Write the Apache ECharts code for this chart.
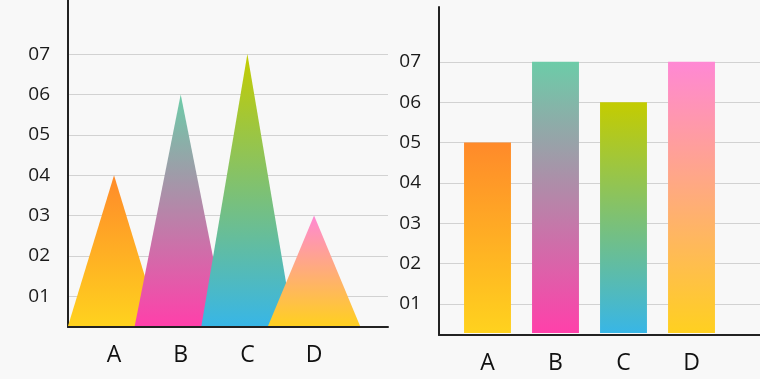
<!DOCTYPE html>
<html><head><meta charset="utf-8">
<script src="https://cdn.jsdelivr.net/npm/echarts@6/dist/echarts.min.js"></script>
<style>html,body{margin:0;padding:0;background:#f8f8f8}#c{width:760px;height:379px}</style>
</head><body><div id="c"></div>
<script>
const categories = ['A', 'B', 'C', 'D'];
const leftValues = [4, 6, 7, 3];
const rightValues = [5, 7, 6, 7];
const yTicks = [1, 2, 3, 4, 5, 6, 7];
const tickLabels = ['01', '02', '03', '04', '05', '06', '07'];
const topColors = ['#ff8a2a', '#6ccca8', '#c4cc00', '#ff88d4'];
const bottomColors = ['#ffd21e', '#ff40aa', '#38b6e6', '#ffd020'];

const leftMin = 0.24, leftMax = 8.34;
const rightMin = 0.23, rightMax = 8.36;
const FONT = 'Open Sans';

function grad(i) {
  return new echarts.graphic.LinearGradient(0, 0, 0, 1, [
    { offset: 0, color: topColors[i] },
    { offset: 1, color: bottomColors[i] }
  ]);
}

function frameY(gi, min, max) {
  return {
    gridIndex: gi, type: 'value', min: min, max: max,
    axisLine: { show: true, lineStyle: { color: '#222', width: 2 } },
    axisTick: { show: false, customValues: yTicks },
    axisLabel: {
      customValues: yTicks, margin: 18, color: '#1a1a1a', fontSize: 19, fontFamily: FONT,
      formatter: v => tickLabels[yTicks.indexOf(Math.round(v))] || ''
    },
    splitLine: { show: true, lineStyle: { color: '#d2d2d2', width: 1 } }
  };
}
function hiddenY(gi, min, max) {
  return { gridIndex: gi, type: 'value', min: min, max: max, show: false, splitLine: { show: false } };
}
function frameX(gi) {
  return {
    gridIndex: gi, type: 'value', min: 0, max: 1,
    axisLine: { show: true, onZero: false, lineStyle: { color: '#222', width: 2 } },
    axisTick: { show: false }, axisLabel: { show: false }, splitLine: { show: false }
  };
}
function catX(gi, margin) {
  return {
    gridIndex: gi, type: 'category', data: categories,
    axisLine: { show: false }, axisTick: { show: false }, splitLine: { show: false },
    axisLabel: { margin: margin, color: '#111', fontSize: 23, fontFamily: FONT }
  };
}

const chart = echarts.init(document.getElementById('c'));
chart.setOption({
  backgroundColor: '#f8f8f8',
  animation: false,
  grid: [
    { left: 68, top: 0, width: 320, height: 327 },
    { left: 80.7, top: 0, width: 266.7, height: 327 },
    { left: 439, top: 7, width: 321, height: 328 },
    { left: 453.5, top: 7, width: 272, height: 328 }
  ],
  xAxis: [frameX(0), catX(1, 17), frameX(2), catX(3, 17)],
  yAxis: [frameY(0, leftMin, leftMax), hiddenY(1, leftMin, leftMax),
          frameY(2, rightMin, rightMax), hiddenY(3, rightMin, rightMax)],
  series: [
    {
      type: 'custom', xAxisIndex: 1, yAxisIndex: 1,
      data: leftValues.map((v, i) => [i, v]),
      encode: { x: 0, y: 1 },
      renderItem: (params, api) => {
        const i = api.value(0), v = api.value(1);
        const top = api.coord([i, v]);
        const base = api.coord([i, leftMin]);
        const hw = api.size([1, 0])[0] * 0.69;
        return {
          type: 'polygon',
          shape: { points: [[top[0] - hw, base[1] - 1], [top[0], top[1]], [top[0] + hw, base[1] - 1]] },
          style: { fill: grad(params.dataIndex) }
        };
      }
    },
    {
      type: 'custom', xAxisIndex: 3, yAxisIndex: 3,
      data: rightValues.map((v, i) => [i, v]),
      encode: { x: 0, y: 1 },
      renderItem: (params, api) => {
        const i = api.value(0), v = api.value(1);
        const top = api.coord([i, v]);
        const base = api.coord([i, rightMin]);
        const w = api.size([1, 0])[0] * 0.69;
        return {
          type: 'rect',
          shape: { x: top[0] - w / 2, y: top[1], width: w, height: base[1] - 2 - top[1] },
          style: { fill: grad(params.dataIndex) }
        };
      }
    }
  ]
});
</script>
</body></html>
